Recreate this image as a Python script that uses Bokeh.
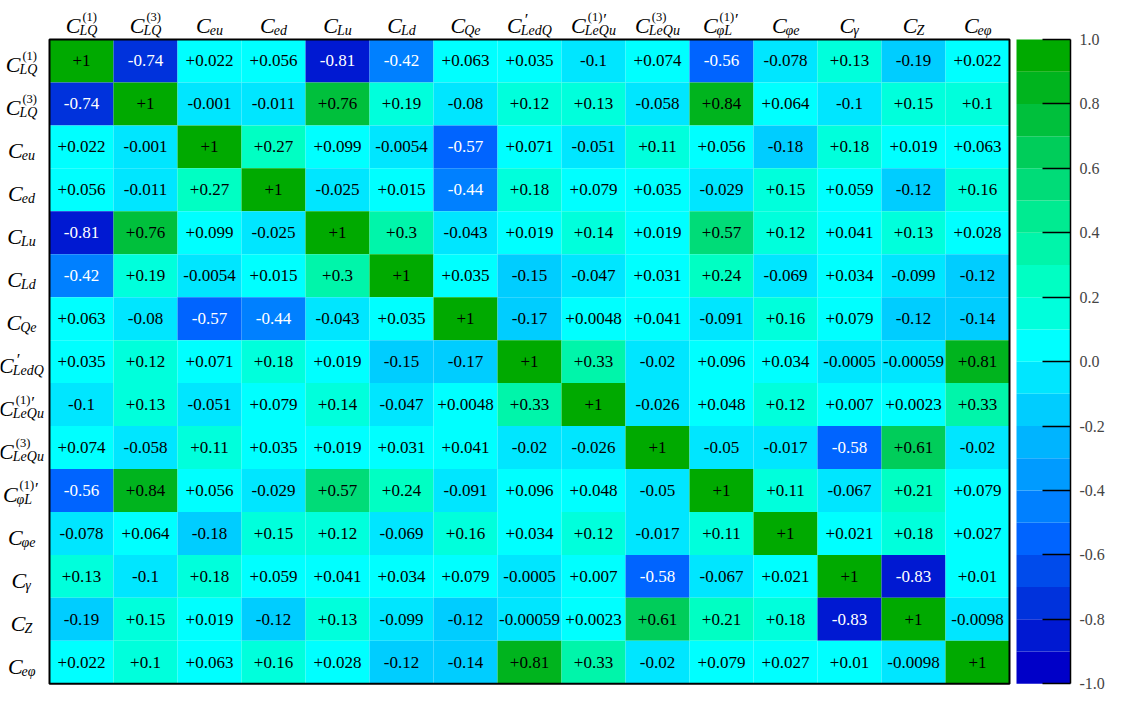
import numpy as np
from bokeh.plotting import figure
from bokeh.models import (Range1d, LinearAxis, FixedTicker, PrintfTickFormatter,
                          ColumnDataSource, LinearColorMapper)
from bokeh.transform import transform
from bokeh.core.properties import value
from bokeh.embed import file_html
from bokeh.resources import INLINE

# ---------------- data ----------------
# parameter labels: C_{sub}^{sup}
param_sub = ["LQ", "LQ", "eu", "ed", "Lu", "Ld", "Qe", "LedQ", "LeQu", "LeQu",
             "φL", "φe", "γ", "Z", "eφ"]
param_sup = ["(1)", "(3)", "", "", "", "", "", "′", "(1)′", "(3)", "(1)′",
             "", "", "", ""]

row_LQ1 = [1, -0.74, 0.022, 0.056, -0.81, -0.42, 0.063, 0.035, -0.1, 0.074, -0.56, -0.078, 0.13, -0.19, 0.022]
row_LQ3 = [-0.74, 1, -0.001, -0.011, 0.76, 0.19, -0.08, 0.12, 0.13, -0.058, 0.84, 0.064, -0.1, 0.15, 0.1]
row_eu = [0.022, -0.001, 1, 0.27, 0.099, -0.0054, -0.57, 0.071, -0.051, 0.11, 0.056, -0.18, 0.18, 0.019, 0.063]
row_ed = [0.056, -0.011, 0.27, 1, -0.025, 0.015, -0.44, 0.18, 0.079, 0.035, -0.029, 0.15, 0.059, -0.12, 0.16]
row_Lu = [-0.81, 0.76, 0.099, -0.025, 1, 0.3, -0.043, 0.019, 0.14, 0.019, 0.57, 0.12, 0.041, 0.13, 0.028]
row_Ld = [-0.42, 0.19, -0.0054, 0.015, 0.3, 1, 0.035, -0.15, -0.047, 0.031, 0.24, -0.069, 0.034, -0.099, -0.12]
row_Qe = [0.063, -0.08, -0.57, -0.44, -0.043, 0.035, 1, -0.17, 0.0048, 0.041, -0.091, 0.16, 0.079, -0.12, -0.14]
row_LedQ = [0.035, 0.12, 0.071, 0.18, 0.019, -0.15, -0.17, 1, 0.33, -0.02, 0.096, 0.034, -0.0005, -0.00059, 0.81]
row_LeQu1 = [-0.1, 0.13, -0.051, 0.079, 0.14, -0.047, 0.0048, 0.33, 1, -0.026, 0.048, 0.12, 0.007, 0.0023, 0.33]
row_LeQu3 = [0.074, -0.058, 0.11, 0.035, 0.019, 0.031, 0.041, -0.02, -0.026, 1, -0.05, -0.017, -0.58, 0.61, -0.02]
row_phiL = [-0.56, 0.84, 0.056, -0.029, 0.57, 0.24, -0.091, 0.096, 0.048, -0.05, 1, 0.11, -0.067, 0.21, 0.079]
row_phie = [-0.078, 0.064, -0.18, 0.15, 0.12, -0.069, 0.16, 0.034, 0.12, -0.017, 0.11, 1, 0.021, 0.18, 0.027]
row_gamma = [0.13, -0.1, 0.18, 0.059, 0.041, 0.034, 0.079, -0.0005, 0.007, -0.58, -0.067, 0.021, 1, -0.83, 0.01]
row_Z = [-0.19, 0.15, 0.019, -0.12, 0.13, -0.099, -0.12, -0.00059, 0.0023, 0.61, 0.21, 0.18, -0.83, 1, -0.0098]
row_ephi = [0.022, 0.1, 0.063, 0.16, 0.028, -0.12, -0.14, 0.81, 0.33, -0.02, 0.079, 0.027, 0.01, -0.0098, 1]

corr_rows = [row_LQ1, row_LQ3, row_eu, row_ed, row_Lu, row_Ld, row_Qe, row_LedQ,
             row_LeQu1, row_LeQu3, row_phiL, row_phie, row_gamma, row_Z, row_ephi]

cbar_ticks = [-1.0, -0.8, -0.6, -0.4, -0.2, 0.0, 0.2, 0.4, 0.6, 0.8, 1.0]

palette = ["#0000C8", "#0019D2", "#0032DC", "#004BEB", "#0064FF",
           "#0080FF", "#009BFF", "#00B4FF", "#00CDFF", "#00E6FF",
           "#00FFFF", "#00FFDC", "#00FFC3", "#00F5AA", "#00EB91",
           "#00DC78", "#00CD5A", "#00C03C", "#00B41E", "#00AA00"]

# ---------------- layout (pixels) ----------------
N = len(param_sub)
FW, FH = 1070, 692
HM_L, HM_T = 49, 39
CELL_W, CELL_H = 64.0, 42.95
CB_GAP, CB_W = 7, 54
LEFT_LABEL_CENTER = 21

x_start = -HM_L / CELL_W
x_end = N + (CB_GAP + CB_W) / CELL_W
y_end = N + HM_T / CELL_H
y_start = N - (FH - HM_T) / CELL_H

cb_lo, cb_hi = cbar_ticks[0], cbar_ticks[-1]
cscale = (cb_hi - cb_lo) / N

p = figure(frame_width=FW, frame_height=FH,
           x_range=Range1d(x_start, x_end), y_range=Range1d(y_start, y_end),
           output_backend="svg", toolbar_location=None,
           x_axis_location=None, y_axis_location=None,
           min_border_left=0, min_border_top=0, min_border_bottom=0, min_border_right=0,
           outline_line_color=None, background_fill_color="white")
p.extra_y_ranges = {"cbar": Range1d(cb_lo + y_start * cscale, cb_lo + y_end * cscale)}
p.xgrid.visible = False
p.ygrid.visible = False

# ---------------- heatmap cells ----------------
xs, ys, vals, txt, tcol = [], [], [], [], []
for i, row in enumerate(corr_rows):
    for j, v in enumerate(row):
        xs.append(j + 0.5)
        ys.append(N - i - 0.5)
        vals.append(v)
        txt.append("%+.2g" % v)
        tcol.append("white" if v < -0.35 else "black")
src = ColumnDataSource(dict(x=xs, y=ys, v=vals, t=txt, c=tcol))
mapper = LinearColorMapper(palette=palette, low=cb_lo, high=cb_hi)
p.rect(x="x", y="y", width=1, height=1, source=src,
       fill_color=transform("v", mapper), line_color=None)
p.text(x="x", y="y", text="t", source=src, text_color="c",
       text_font=value("Liberation Serif"), text_font_size="17px",
       text_align="center", text_baseline="middle")
p.quad(left=0, right=N, bottom=0, top=N, fill_color=None,
       line_color="black", line_width=2)

# ---------------- colour bar ----------------
edges = np.linspace(cb_lo, cb_hi, len(palette) + 1)
p.quad(left=N + CB_GAP / CELL_W, right=x_end, bottom=edges[:-1], top=edges[1:],
       fill_color=palette, line_color=None, y_range_name="cbar")
ax = LinearAxis(y_range_name="cbar", ticker=FixedTicker(ticks=cbar_ticks),
                formatter=PrintfTickFormatter(format="%.1f"), bounds=(cb_lo, cb_hi))
ax.major_tick_in = 28
ax.major_tick_out = 0
ax.minor_tick_line_color = None
ax.major_tick_line_width = 1.5
ax.axis_line_width = 1.5
ax.major_label_text_font = "Liberation Serif"
ax.major_label_text_font_size = "16px"
ax.major_label_standoff = 9
p.add_layout(ax, "right")

# ---------------- parameter labels ----------------
ital_w = {"C": .667, "L": .556, "Q": .722, "e": .444, "u": .5, "d": .5,
          "φ": .52, "γ": .44, "Z": .556}
up_w = {"(": .333, ")": .333, "1": .5, "3": .5}
MAIN_FS, SUB_FS, SUP_FS, PRIME_FS = 22, 14, 12.5, 17
PRIME = "′"

main_d = dict(x=[], y=[], t=[], xo=[], yo=[])
sub_d = dict(x=[], y=[], t=[], xo=[], yo=[])
sup_d = dict(x=[], y=[], t=[], xo=[], yo=[])
prm_d = dict(x=[], y=[], t=[], xo=[], yo=[])

def put(d, x, y, t, xo, yo):
    d["x"].append(x); d["y"].append(y); d["t"].append(t)
    d["xo"].append(xo); d["yo"].append(yo)

def add_label(x, y, base_yo, sub, sup):
    sup_txt = sup.replace(PRIME, "")
    has_prime = PRIME in sup
    mw = ital_w["C"] * MAIN_FS
    sw = sum(ital_w.get(ch, .5) for ch in sub) * SUB_FS
    pw = sum(up_w.get(ch, .5) for ch in sup_txt) * SUP_FS
    pw_all = pw + (6 if has_prime else 0)
    total = mw + max(sw - 1, pw_all + 2)
    x0 = -total / 2
    x1 = x0 + mw
    put(main_d, x, y, "C", x0, base_yo)
    put(sub_d, x, y, sub, x1 - 1, base_yo + 5)
    if sup_txt:
        put(sup_d, x, y, sup_txt, x1 + 2, base_yo - 9)
    if has_prime:
        put(prm_d, x, y, PRIME, x1 + 2 + pw + 1, base_yo - 6)

left_x = x_start + LEFT_LABEL_CENTER / CELL_W
for k in range(N):
    add_label(k + 0.5, N, -14, param_sub[k], param_sup[k])          # top
    add_label(left_x, N - k - 0.5, 4, param_sub[k], param_sup[k])    # left

for d, fs, style in ((main_d, MAIN_FS, "italic"), (sub_d, SUB_FS, "italic"),
                     (sup_d, SUP_FS, "normal"), (prm_d, PRIME_FS, "normal")):
    p.text(x="x", y="y", text="t", x_offset="xo", y_offset="yo",
           source=ColumnDataSource(d), text_color="black",
           text_font=value("Liberation Serif"), text_font_style=style,
           text_font_size="%gpx" % fs, text_align="left", text_baseline="alphabetic")

open("out.html", "w").write(file_html(p, INLINE))
